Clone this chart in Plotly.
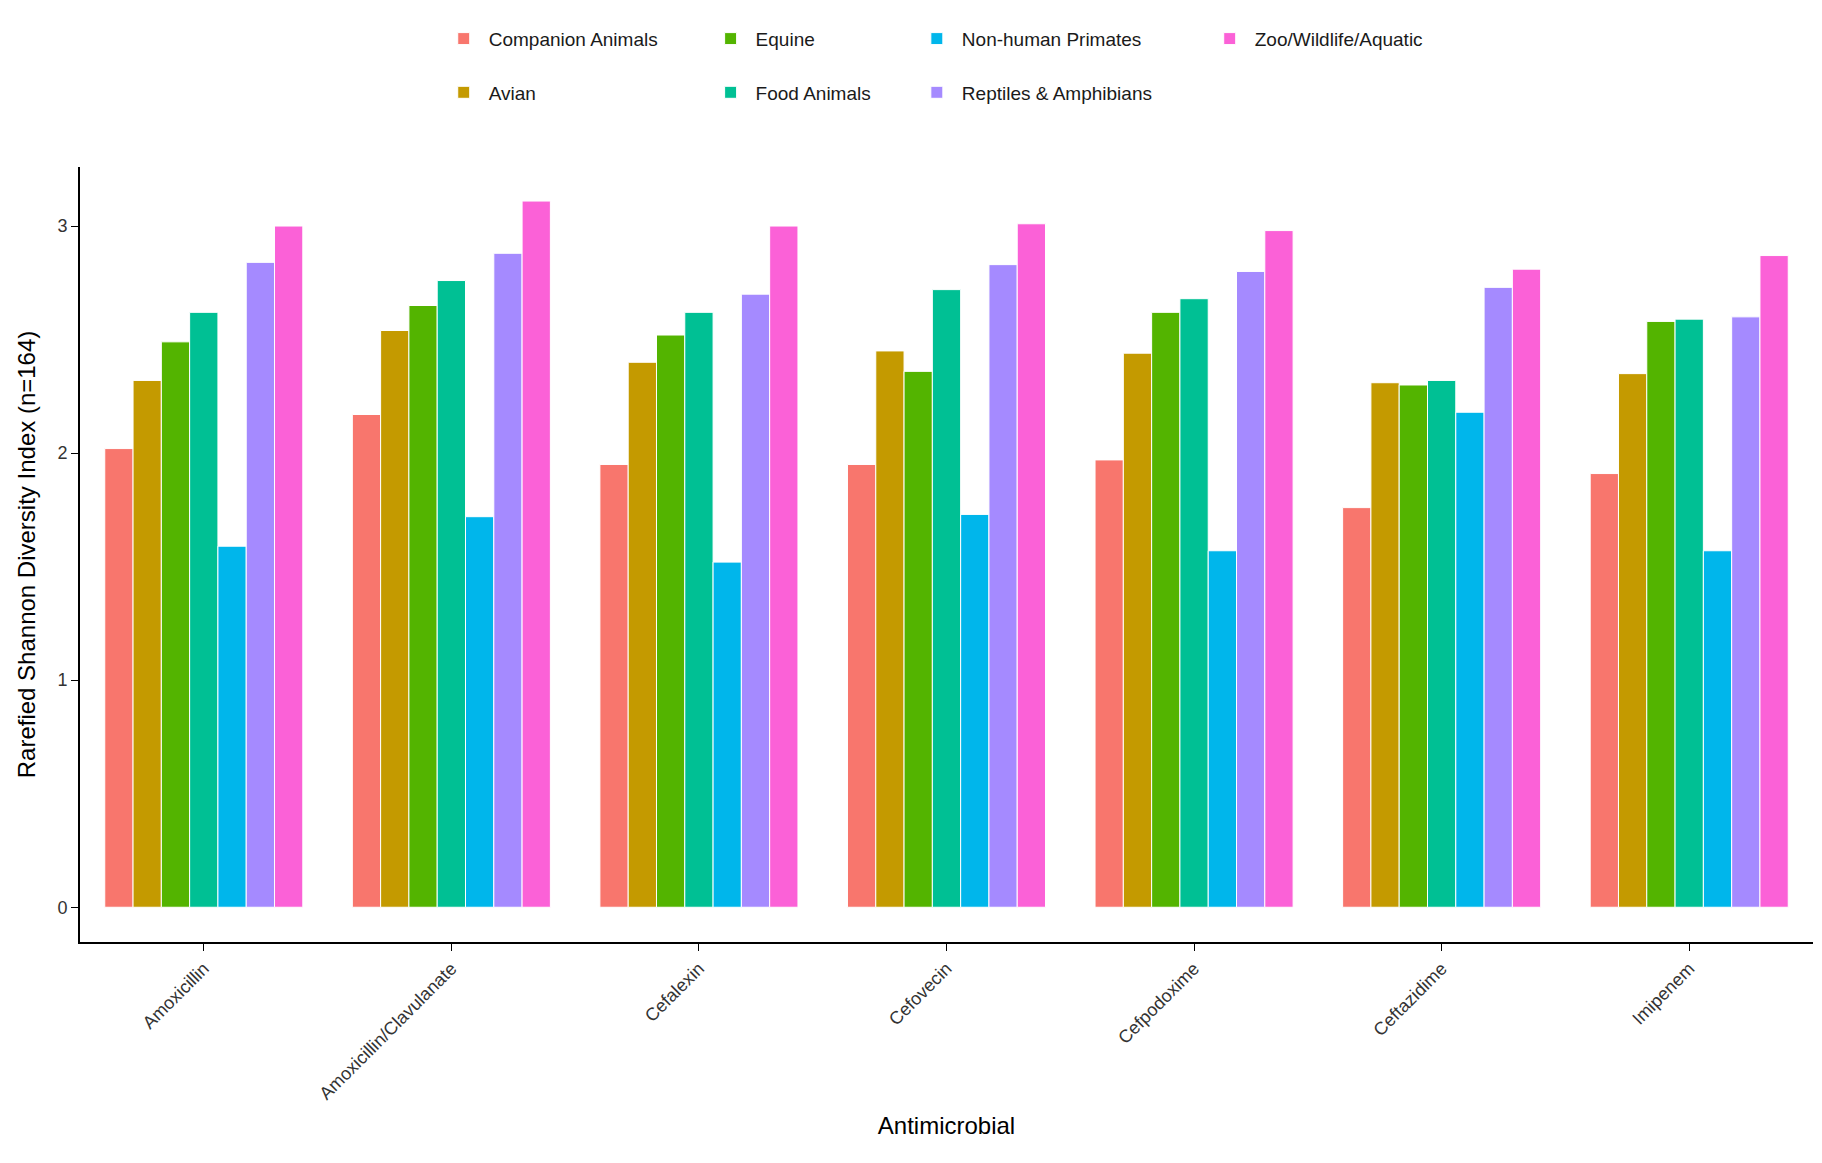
import plotly.graph_objects as go

drugs = ["Amoxicillin", "Amoxicillin/Clavulanate", "Cefalexin", "Cefovecin",
         "Cefpodoxime", "Ceftazidime", "Imipenem"]
groups = ["Companion Animals", "Avian", "Equine", "Food Animals",
          "Non-human Primates", "Reptiles & Amphibians", "Zoo/Wildlife/Aquatic"]
colors = ["#F8766D", "#C49A00", "#53B400", "#00C094", "#00B6EB", "#A58AFF", "#FB61D7"]

companion = [2.02, 2.17, 1.95, 1.95, 1.97, 1.76, 1.91]
avian = [2.32, 2.54, 2.40, 2.45, 2.44, 2.31, 2.35]
equine = [2.49, 2.65, 2.52, 2.36, 2.62, 2.30, 2.58]
food = [2.62, 2.76, 2.62, 2.72, 2.68, 2.32, 2.59]
primates = [1.59, 1.72, 1.52, 1.73, 1.57, 2.18, 1.57]
reptiles = [2.84, 2.88, 2.70, 2.83, 2.80, 2.73, 2.60]
zoo = [3.00, 3.11, 3.00, 3.01, 2.98, 2.81, 2.87]
series = [companion, avian, equine, food, primates, reptiles, zoo]

# ggplot legend fills column-wise: two entries per column, one plotly legend per column
legend_ids = ["legend", "legend", "legend2", "legend2", "legend3", "legend3", "legend4"]
col_x = {"legend": 0.207, "legend2": 0.361, "legend3": 0.480, "legend4": 0.649}

fig = go.Figure()
for name, col, vals, lg in zip(groups, colors, series, legend_ids):
    fig.add_trace(go.Bar(x=drugs, y=vals, name=name, marker_color=col,
                         marker_line=dict(color="white", width=1),
                         legend=lg, legendgroup=name))

legends = {}
for lg, x in col_x.items():
    legends[lg] = dict(orientation="v", xanchor="left", x=x, yanchor="top", y=1.19,
                       font=dict(size=19, color="#1a1a1a"), tracegroupgap=26,
                       bgcolor="rgba(0,0,0,0)", itemwidth=40)

fig.update_layout(
    width=1822, height=1163,
    paper_bgcolor="white", plot_bgcolor="white",
    font=dict(family="Liberation Sans, Arial", color="black"),
    margin=dict(l=72, r=17, t=157, b=229),
    barmode="group", bargap=0.2, bargroupgap=0,
    xaxis=dict(title=dict(text="Antimicrobial", font=dict(size=24)),
               tickangle=-45, tickfont=dict(size=18, color="#333333"),
               showline=True, linecolor="black", linewidth=2,
               ticks="outside", ticklen=7, tickcolor="black"),
    yaxis=dict(title=dict(text="Rarefied Shannon Diversity Index (n=164)", font=dict(size=24)),
               range=[-0.153, 3.26], tickvals=[0, 1, 2, 3],
               tickfont=dict(size=18, color="#333333"), showgrid=False, zeroline=False,
               showline=True, linecolor="black", linewidth=2,
               ticks="outside", ticklen=7, tickcolor="black"),
    **legends,
)
fig.write_html("out.html")
